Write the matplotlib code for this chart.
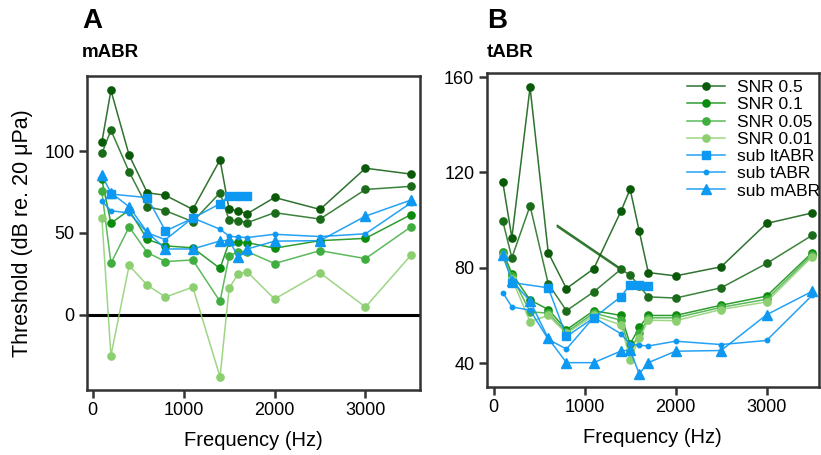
import numpy as np
import matplotlib
matplotlib.use("Agg")
import matplotlib.pyplot as plt

plt.rcParams['font.family'] = ['Liberation Sans', 'DejaVu Sans']

freqs = [100, 200, 400, 600, 800, 1100, 1400, 1500, 1600, 1700, 2000, 2500, 3000, 3500]

# panel A (mABR), thresholds per SNR criterion
a_snr_05 = [105.5, 137.2, 97.6, 74.6, 73.0, 64.4, 94.7, 64.4, 63.4, 61.8, 71.7, 64.4, 89.6, 86.0]
a_snr_02 = [98.6, 112.8, 87.4, 66.0, 63.6, 56.9, 74.6, 57.9, 57.5, 56.3, 62.4, 58.5, 76.6, 78.5]
a_snr_01 = [82.7, 55.9, 64.0, 46.1, 42.1, 40.9, 28.3, 44.3, 44.3, 44.1, 40.7, 45.3, 46.7, 61.2]
a_snr_005 = [75.4, 31.5, 53.7, 38.0, 32.5, 33.5, 8.1, 36.0, 38.6, 38.6, 31.3, 39.2, 34.3, 53.7]
a_snr_001 = [59.3, -25.0, 30.1, 18.1, 10.8, 16.9, -38.0, 16.1, 25.2, 26.2, 9.6, 25.6, 4.7, 36.4]

# panel B (tABR)
b_snr_05 = [116.0, 92.6, 155.7, 86.3, 71.3, 79.6, 103.8, 113.0, 95.4, 78.0, 76.6, 80.4, 98.6, 103.0]
b_snr_02 = [99.6, 84.2, 106.0, 73.3, 62.0, 69.9, 79.4, 76.9, 72.4, 67.8, 67.3, 71.6, 81.8, 93.6]
b_snr_01 = [86.7, 77.6, 66.5, 62.5, 54.0, 62.0, 60.0, 48.0, 55.0, 60.0, 60.0, 64.3, 68.1, 86.3]
b_snr_005 = [86.0, 76.5, 61.5, 61.0, 53.0, 61.0, 58.0, 45.0, 52.5, 59.0, 59.0, 63.4, 66.8, 85.4]
b_snr_001 = [84.8, 75.5, 57.4, 60.0, 52.5, 60.0, 56.0, 41.5, 50.5, 58.0, 57.8, 62.5, 65.7, 84.6]
b_stray_x = [700, 1400]
b_stray_y1 = [97.8, 79.6]
b_stray_y2 = [97.2, 79.1]

# reference (subject) thresholds, same in both panels
lt_freqs = [200, 600, 800, 1100, 1400, 1500, 1600, 1700]
sub_ltabr = [73.8, 71.6, 51.2, 59.0, 67.9, 72.9, 72.8, 72.3]
sub_tabr = [69.6, 63.6, 62.2, 50.0, 45.9, 59.2, 52.3, 48.0, 47.5, 47.2, 49.2, 47.8, 49.5, 68.4]
sub_mabr = [85.2, 74.6, 66.0, 50.4, 40.2, 40.2, 45.1, 45.5, 35.5, 40.2, 45.0, 45.3, 60.3, 70.1]

greens = ['#0a5a0a', '#1a6c1a', '#0c8c0c', '#3fae3f', '#8ccf70']
blue = '#0d98f2'


def rgba(c, a):
    return matplotlib.colors.to_rgba(c, a)


def draw_panel(ax, snr_sets, labels):
    for ys, c, lab in zip(snr_sets, greens, labels):
        ax.plot(freqs, ys, color=rgba(c, 0.85), lw=1.1, marker='o', ms=5.2,
                mfc=c, mec=c, label=lab)
    ax.plot(lt_freqs, sub_ltabr, color=rgba(blue, 0.9), lw=1.1, marker='s', ms=5.4,
            mfc=blue, mec=blue, label='sub ltABR')
    ax.plot(freqs, sub_tabr, color=rgba(blue, 0.9), lw=1.1, marker='o', ms=3.2,
            mfc=blue, mec=blue, label='sub tABR')
    ax.plot(freqs, sub_mabr, color=rgba(blue, 0.9), lw=1.1, marker='^', ms=7.5,
            mfc=blue, mec=blue, label='sub mABR')


def style(ax):
    for s in ax.spines.values():
        s.set_linewidth(1.8)
        s.set_color('#333333')
    ax.tick_params(direction='out', length=6, width=1.8, color='#333333',
                   labelsize=13, pad=3)
    ax.set_xticks([0, 1000, 2000, 3000])
    ax.set_xlabel('Frequency (Hz)', fontsize=14.5, labelpad=8)


fig = plt.figure(figsize=(8.21, 4.55), dpi=100)
axA = fig.add_axes([0.106, 0.143, 0.4056, 0.690])
axB = fig.add_axes([0.593, 0.1495, 0.4044, 0.690])

# panel A
draw_panel(axA, [a_snr_05, a_snr_02, a_snr_01, a_snr_005, a_snr_001],
           [None, None, None, None, None])
axA.axhline(0, color='black', lw=2.2, zorder=0)
axA.set_xlim(-63, 3600)
axA.set_ylim(-46, 146)
axA.set_yticks([0, 50, 100])
axA.set_ylabel('Threshold (dB re. 20 μPa)', fontsize=15.5, labelpad=8)
style(axA)
fig.text(0.100, 0.925, 'A', fontsize=20, fontweight='bold', va='bottom')
fig.text(0.100, 0.865, 'mABR', fontsize=13.5, fontweight='bold', va='bottom')

# panel B
axB.plot(b_stray_x, b_stray_y1, color=rgba(greens[0], 0.85), lw=1.1)
axB.plot(b_stray_x, b_stray_y2, color=rgba(greens[1], 0.85), lw=1.1)
draw_panel(axB, [b_snr_05, b_snr_02, b_snr_01, b_snr_005, b_snr_001],
           ['SNR 0.5', None, 'SNR 0.1', 'SNR 0.05', 'SNR 0.01'])
axB.set_xlim(-75, 3575)
axB.set_ylim(30, 161.7)
axB.set_yticks([40, 80, 120, 160])
style(axB)
handles, labs = axB.get_legend_handles_labels()
axB.legend(handles, labs, loc='upper right', frameon=False, fontsize=12.5,
           handlelength=2.2, labelspacing=0.12, borderaxespad=0.0,
           handletextpad=0.7, bbox_to_anchor=(1.025, 1.0))
fig.text(0.593, 0.925, 'B', fontsize=20, fontweight='bold', va='bottom')
fig.text(0.593, 0.865, 'tABR', fontsize=13.5, fontweight='bold', va='bottom')

fig.savefig('out.png', dpi=100)
